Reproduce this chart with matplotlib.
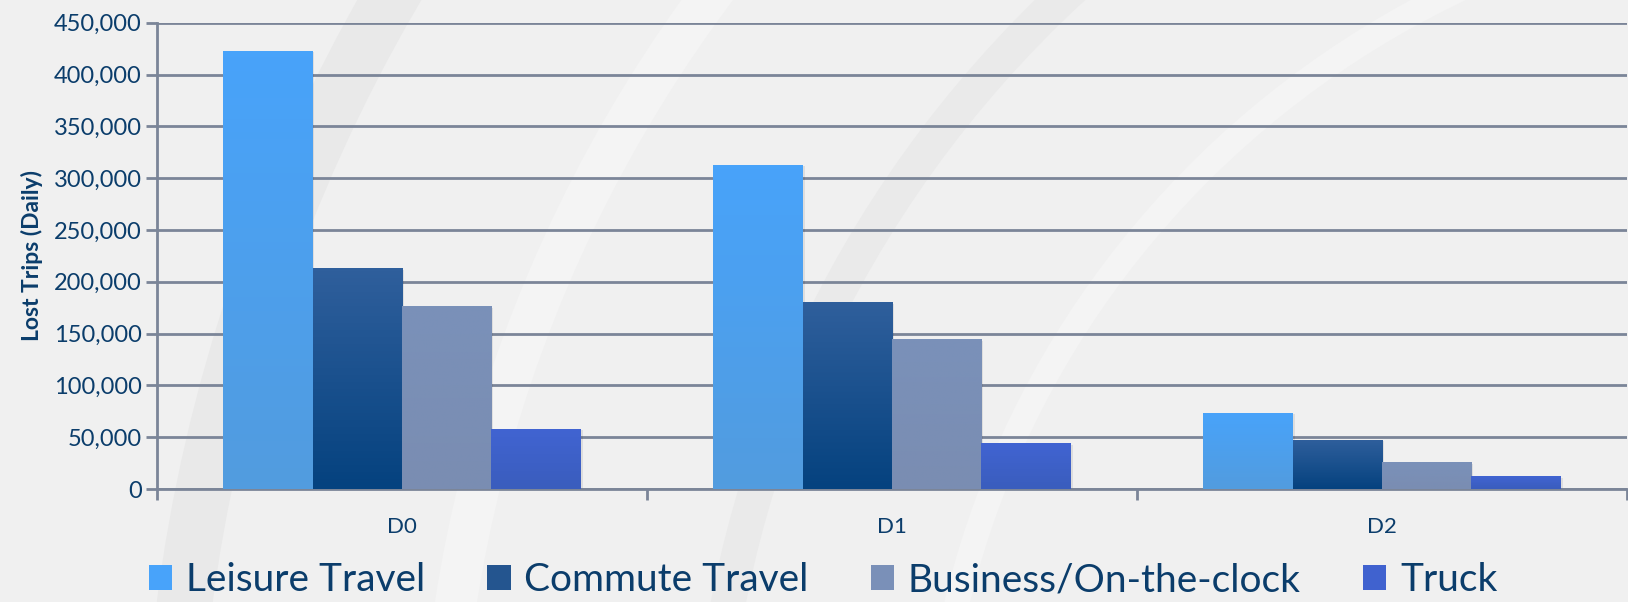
import numpy as np
import matplotlib
matplotlib.use("Agg")
import matplotlib.pyplot as plt
from matplotlib.colors import LinearSegmentedColormap
from matplotlib.patches import Patch, Arc
from matplotlib.ticker import FuncFormatter, MultipleLocator

# ── data ─────────────────────────────────────────────
categories = ["D0", "D1", "D2"]
series = ["Leisure Travel", "Commute Travel", "Business/On-the-clock", "Truck"]
leisure = [423000, 313000, 73500]
commute = [213000, 180500, 47500]
business = [176500, 144500, 26000]
truck = [58000, 44000, 12500]

# (top, bottom) gradient colours per series
grad = [("#48a3fa", "#529cdf"), ("#2f5f9c", "#05427f"),
        ("#7a91b9", "#7a8db2"), ("#4164d2", "#3a5dbd")]
legend_cols = ["#48a3fa", "#24558f", "#7a90b8", "#4062cf"]
TXT = "#0b3d6b"
GRID = "#7b8598"

plt.rcParams["font.family"] = ["Lato", "DejaVu Sans"]

fig = plt.figure(figsize=(16.28, 6.02), dpi=100, facecolor="#f0f0f0")

# faint background swirl (kept subtle, behind the axes)
for r, c, lw in [(1.9, "#e9e9e9", 40), (1.6, "#f4f4f4", 30), (1.3, "#eaeaea", 25), (1.05, "#f4f4f4", 18)]:
    fig.patches.append(Arc((1.15, -0.35), r * 1.1, r * 2.9, theta1=90, theta2=180,
                           transform=fig.transFigure, color=c, lw=lw, zorder=0))

ax = fig.add_axes([0.0964, 0.1877, 0.9030, 0.7746])
ax.set_facecolor("none")
ax.set_zorder(2)


def gradient_bar(ax, bar, top, bottom):
    x, y = bar.get_x(), bar.get_y()
    w, h = bar.get_width(), bar.get_height()
    cmap = LinearSegmentedColormap.from_list("g", [bottom, top])
    im = ax.imshow(np.linspace(0, 1, 64).reshape(-1, 1), extent=[x, x + w, y, y + h],
                   origin="lower", aspect="auto", cmap=cmap, zorder=3)
    im.set_clip_path(bar)


x = np.arange(len(categories))
w = 0.1825
for i, vals in enumerate([leisure, commute, business, truck]):
    bars = ax.bar(x + (i - 1.5) * w, vals, w, color=grad[i][0], zorder=2, linewidth=0)
    for b in bars:
        # soft drop shadow
        ax.add_patch(plt.Rectangle((b.get_x() + 0.004, 0), b.get_width(), b.get_height() - 1500,
                                   color="#000000", alpha=0.08, zorder=1, lw=0))
        gradient_bar(ax, b, *grad[i])

ax.set_xlim(-0.5, 2.5)
ax.set_ylim(0, 450000)
ax.yaxis.set_major_locator(MultipleLocator(50000))
ax.yaxis.set_major_formatter(FuncFormatter(lambda v, p: f"{int(v):,}"))
ax.set_xticks(x)
ax.set_xticklabels(categories)
ax.set_xticks([-0.5, 0.5, 1.5, 2.5], minor=True)
ax.tick_params(axis="x", which="major", length=0, pad=20, labelsize=16, labelcolor=TXT)
ax.tick_params(axis="x", which="minor", length=8, width=2, color=GRID)
ax.tick_params(axis="y", length=8, width=2, color=GRID, labelsize=17, labelcolor=TXT, pad=3)
ax.grid(axis="y", color=GRID, lw=2, zorder=0)
ax.set_axisbelow(True)
for s in ("top", "right"):
    ax.spines[s].set_visible(False)
for s in ("left", "bottom"):
    ax.spines[s].set_color(GRID)
    ax.spines[s].set_linewidth(2)

ax.set_ylabel("Lost Trips (Daily)", fontsize=16.5, fontweight="bold", color=TXT)
ax.yaxis.set_label_coords(-0.0775, 0.5)

handles = [Patch(facecolor=c, edgecolor="none") for c in legend_cols]
fig.legend(handles, series, loc="lower left", bbox_to_anchor=(0.070, -0.052), ncol=4,
           frameon=False, fontsize=28, labelcolor=TXT, handlelength=0.6, handleheight=0.6,
           handletextpad=0.35, columnspacing=1.6)

fig.savefig("out.png", dpi=100, facecolor=fig.get_facecolor())
